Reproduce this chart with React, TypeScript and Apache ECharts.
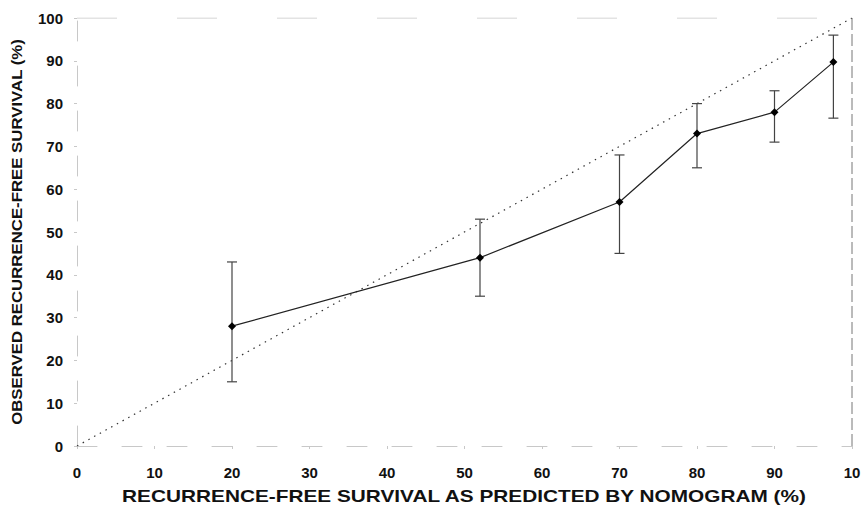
import React, { useEffect, useRef } from "react";
import * as echarts from "echarts";

const predicted = [20, 52, 70, 80, 90, 97.6];
const observed = [28, 44, 57, 73, 78, 89.7];
const lower = [15, 35, 45, 65, 71, 76.6];
const upper = [43, 53, 68, 80, 83, 96];
const referenceLine = [
  [0, 0],
  [100, 100],
];
const xTicks = [0, 10, 20, 30, 40, 50, 60, 70, 80, 90, 100];
const xTickLabels = ["0", "10", "20", "30", "40", "50", "60", "70", "80", "90", "10"];
const xTitle = "RECURRENCE-FREE SURVIVAL AS PREDICTED BY NOMOGRAM (%)";
const yTitle = "OBSERVED RECURRENCE-FREE SURVIVAL (%)";

export default function App() {
  const ref = useRef<HTMLDivElement>(null);
  useEffect(() => {
    document.body.style.margin = "0";
    const chart = echarts.init(ref.current!, null, { renderer: "svg" });
    const font = "'Liberation Sans', Arial, sans-serif";
    const faint = "#c8c8c8";
    const errData = predicted.map((x, i) => [x, lower[i], upper[i]]);
    chart.setOption({
      animation: false,
      backgroundColor: "#fff",
      grid: { left: 77, right: 9, top: 18, bottom: 65, outerBoundsMode: "none", containLabel: false },
      xAxis: {
        type: "value",
        min: 0,
        max: 100,
        interval: 10,
        axisLine: { show: true, lineStyle: { color: faint, type: [20, 25], width: 1 } },
        axisTick: { show: true, length: 3, lineStyle: { color: faint } },
        axisLabel: {
          fontFamily: font,
          fontWeight: "bold",
          fontSize: 15,
          color: "#111",
          margin: 19,
          formatter: (v: number) => xTickLabels[xTicks.indexOf(v)] ?? String(v),
        },
        splitLine: { show: false },
      },
      yAxis: {
        type: "value",
        min: 0,
        max: 100,
        interval: 10,
        axisLine: { show: true, lineStyle: { color: faint, type: [20, 25], width: 1 } },
        axisTick: { show: true, length: 3, lineStyle: { color: faint } },
        axisLabel: { fontFamily: font, fontWeight: "bold", fontSize: 15, color: "#111", margin: 14 },
        splitLine: { show: false },
      },
      graphic: [
        {
          type: "text",
          x: 464,
          y: 496,
          scaleX: 1.3,
          style: {
            text: xTitle,
            fontFamily: font,
            fontWeight: "bold",
            fontSize: 16,
            fill: "#111",
            align: "center",
            verticalAlign: "middle",
          },
        },
        {
          type: "text",
          x: 17,
          y: 232,
          rotation: Math.PI / 2,
          scaleX: 1.12,
          style: {
            text: yTitle,
            fontFamily: font,
            fontWeight: "bold",
            fontSize: 15,
            fill: "#111",
            align: "center",
            verticalAlign: "middle",
          },
        },
      ],
      series: [
        {
          type: "line",
          data: referenceLine,
          symbol: "none",
          lineStyle: { color: "#333", width: 1.2, type: [1.5, 5] },
          z: 1,
        },
        {
          type: "custom",
          data: errData,
          renderItem: (params: any, api: any) => {
            const x = api.value(0);
            const lo = api.coord([x, api.value(1)]);
            const hi = api.coord([x, api.value(2)]);
            const cap = 5;
            const st = { stroke: "#444", lineWidth: 1.2 };
            return {
              type: "group",
              children: [
                { type: "line", shape: { x1: lo[0], y1: lo[1], x2: hi[0], y2: hi[1] }, style: st },
                { type: "line", shape: { x1: lo[0] - cap, y1: lo[1], x2: lo[0] + cap, y2: lo[1] }, style: st },
                { type: "line", shape: { x1: hi[0] - cap, y1: hi[1], x2: hi[0] + cap, y2: hi[1] }, style: st },
              ],
            };
          },
          z: 2,
        },
        {
          type: "line",
          data: predicted.map((x, i) => [x, observed[i]]),
          symbol: "diamond",
          symbolSize: 8,
          itemStyle: { color: "#000" },
          lineStyle: { color: "#222", width: 1.2 },
          z: 3,
        },
        {
          type: "line",
          data: [
            [100, 0],
            [100, 100],
          ],
          symbol: "none",
          lineStyle: { color: "#777", width: 1, type: [12, 4] },
          z: 1,
        },
        {
          type: "line",
          data: [
            [0, 100],
            [100, 100],
          ],
          symbol: "none",
          lineStyle: { color: faint, width: 1, type: [40, 60] },
          z: 1,
        },
      ],
    });
    return () => chart.dispose();
  }, []);
  return <div ref={ref} style={{ width: 861, height: 511 }} />;
}
